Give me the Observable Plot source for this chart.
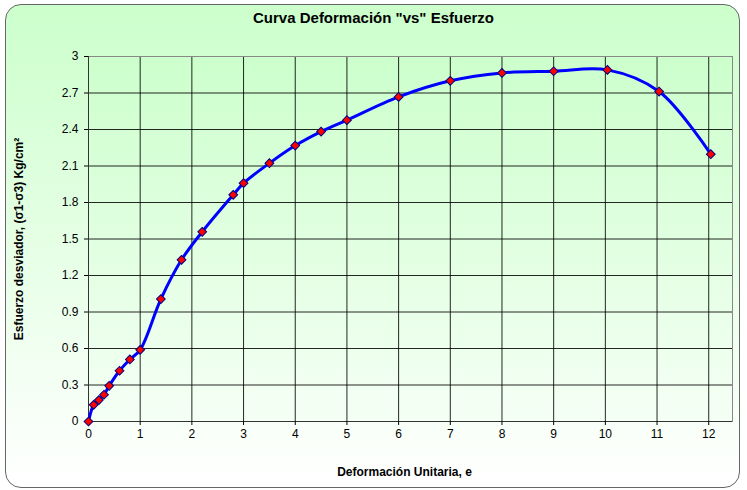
<!DOCTYPE html>
<html><head><meta charset="utf-8">
<script src="https://cdn.jsdelivr.net/npm/d3@7"></script>
<script src="https://cdn.jsdelivr.net/npm/@observablehq/plot@0.6"></script>
<style>
body{margin:0;background:#fff;}
#wrap{position:relative;width:747px;height:490px;overflow:hidden;font-family:"Liberation Sans",Arial,sans-serif;}
#box{position:absolute;left:5px;top:4px;width:733px;height:482px;border:1.5px solid #666;border-radius:16px;background:linear-gradient(#ccffcc,#ffffff);}
#title{position:absolute;left:0;width:747px;top:9px;text-align:center;font-weight:bold;font-size:15px;line-height:17px;}
#chart{position:absolute;left:0;top:0;}
</style></head><body>
<div id="wrap"><div id="box"></div><div id="title">Curva Deformación "vs" Esfuerzo</div><div id="chart"></div></div>
<script>
const deformacion = [0, 0.1, 0.2, 0.3, 0.4, 0.6, 0.8, 1.0, 1.4, 1.8, 2.2, 2.8, 3.0, 3.5, 4.0, 4.5, 5.0, 6.0, 7.0, 8.0, 9.0, 10.04, 11.04, 12.04];
const esfuerzo = [0, 0.137, 0.176, 0.22, 0.293, 0.417, 0.51, 0.589, 1.006, 1.329, 1.559, 1.863, 1.959, 2.123, 2.268, 2.383, 2.477, 2.668, 2.80, 2.865, 2.879, 2.89, 2.712, 2.197];
const xTicks = [0, 1, 2, 3, 4, 5, 6, 7, 8, 9, 10, 11, 12];
const yTicks = [0, 0.3, 0.6, 0.9, 1.2, 1.5, 1.8, 2.1, 2.4, 2.7, 3];
const xLabel = "Deformación Unitaria, e";
const yLabel = "Esfuerzo desviador, (σ1-σ3) Kg/cm²";

const data = deformacion.map((d, i) => ({x: d, y: esfuerzo[i]}));

const plot = Plot.plot({
  width: 747, height: 490,
  marginLeft: 88, marginRight: 15, marginTop: 56, marginBottom: 69,
  style: {background: "transparent", fontFamily: "'Liberation Sans', Arial, sans-serif", fontSize: "12px", color: "#000"},
  x: {domain: [0, 12.46]},
  y: {domain: [0, 3]},
  marks: [
    Plot.frame({fill: "url(#plotGrad)", stroke: "none"}),
    Plot.gridX(xTicks, {stroke: "#000", strokeOpacity: 0.85}),
    Plot.gridY(yTicks, {stroke: "#000", strokeOpacity: 0.85}),
    Plot.frame({stroke: "#888"}),
    Plot.ruleX([0], {stroke: "#333"}),
    Plot.ruleY([0], {stroke: "#333"}),
    Plot.axisX(xTicks, {tickSize: 4, tickPadding: 4, label: null, fontSize: 12, tickFormat: d => String(d)}),
    Plot.axisY(yTicks, {tickSize: 4, tickPadding: 6, label: null, fontSize: 12, tickFormat: d => String(d)}),
    Plot.line(data, {x: "x", y: "y", stroke: "#0000ff", strokeWidth: 3, curve: "catmull-rom"}),
    Plot.dot(data, {x: "x", y: "y", symbol: "square", rotate: 45, r: 3.5, fill: "#ff0000", stroke: "#000080", strokeWidth: 1}),
    Plot.text([xLabel], {text: d => d, frameAnchor: "bottom", dx: -6, dy: 54, fontWeight: "bold", fontSize: 12}),
    Plot.text([yLabel], {text: d => d, frameAnchor: "left", textAnchor: "middle", dx: -69, rotate: -90, fontWeight: "bold", fontSize: 12})
  ]
});

const ns = "http://www.w3.org/2000/svg";
const defs = document.createElementNS(ns, "defs");
defs.innerHTML = '<linearGradient id="plotGrad" x1="0" y1="0" x2="0" y2="1"><stop offset="0" stop-color="#ccffcc"/><stop offset="1" stop-color="#f5fff5"/></linearGradient>';
plot.insertBefore(defs, plot.firstChild);
document.getElementById("chart").appendChild(plot);
</script>
</body></html>
